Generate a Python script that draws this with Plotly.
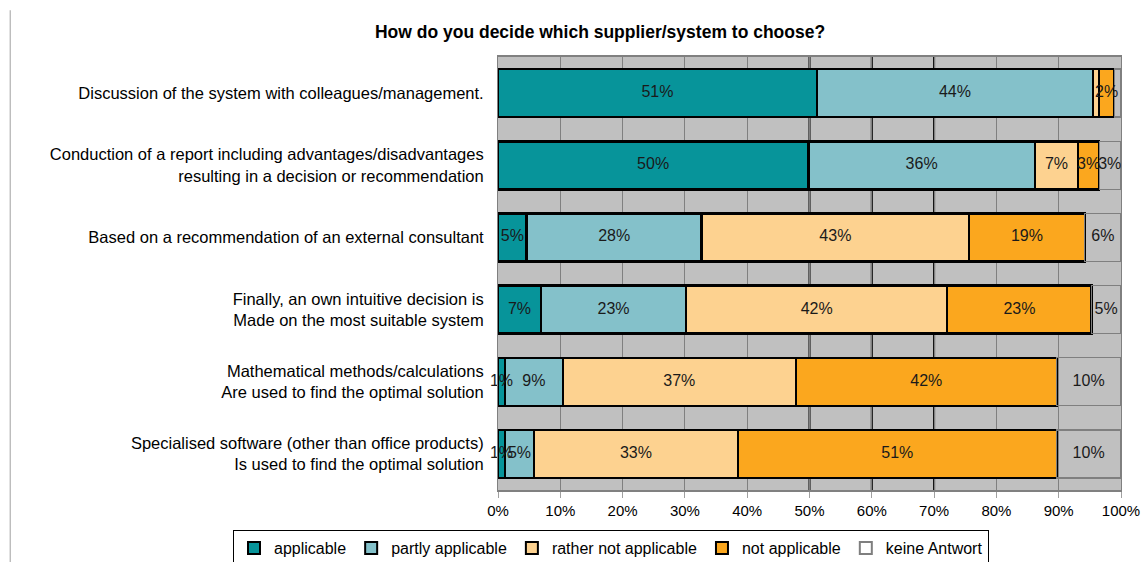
import numpy as np
import plotly.graph_objects as go

categories = [
    "Discussion of the system with colleagues/management.",
    "Conduction of a report including advantages/disadvantages<br>resulting in a decision or recommendation",
    "Based on a recommendation of an external consultant",
    "Finally, an own intuitive decision is<br>Made on the most suitable system",
    "Mathematical methods/calculations<br>Are used to find the optimal solution",
    "Specialised software (other than office products)<br>Is used to find the optimal solution",
]

series_names = ["applicable", "partly applicable", "rather not applicable", "not applicable", "keine Antwort"]

applicable = [51.2, 49.8, 4.6, 6.9, 1.1, 1.1]
partly_applicable = [44.3, 36.4, 28.1, 23.3, 9.3, 4.7]
rather_not_applicable = [1.0, 6.9, 42.9, 41.9, 37.4, 32.7]
not_applicable = [2.4, 3.4, 18.6, 23.2, 41.9, 51.2]
keine_antwort = [1.0, 3.4, 5.8, 4.6, 10.2, 10.2]

labels_applicable = ["51%", "50%", "5%", "7%", "1%", "1%"]
labels_partly = ["44%", "36%", "28%", "23%", "9%", "5%"]
labels_rather_not = ["", "7%", "43%", "42%", "37%", "33%"]
labels_not = ["2%", "3%", "19%", "23%", "42%", "51%"]
labels_keine = ["", "3%", "6%", "5%", "10%", "10%"]

x_ticks = [0, 10, 20, 30, 40, 50, 60, 70, 80, 90, 100]
x_tick_labels = ["0%", "10%", "20%", "30%", "40%", "50%", "60%", "70%", "80%", "90%", "100%"]
series_line_positions = [50, 60, 70]

values = [applicable, partly_applicable, rather_not_applicable, not_applicable, keine_antwort]
labels = [labels_applicable, labels_partly, labels_rather_not, labels_not, labels_keine]
fills = ["#07949A", "#84C1CA", "#FDD290", "#FBA71E", "rgba(0,0,0,0)"]
borders = ["#000000", "#000000", "#000000", "#000000", "#7F7F7F"]
border_w = [2.5, 2.5, 2.5, 2.5, 1.2]

FONT = "Liberation Sans, Arial, sans-serif"

fig = go.Figure()
for name, vals, fc, bc, bw in zip(series_names, values, fills, borders, border_w):
    fig.add_trace(go.Bar(
        y=categories, x=vals, name=name, orientation="h",
        marker=dict(color=fc, line=dict(color=bc, width=bw)),
        hoverinfo="x+name",
    ))

# data labels drawn on top of all bars, centred on each segment
arr = np.array(values, dtype=float)
ends = np.cumsum(arr, axis=0)
mids = ends - arr / 2
lx, ly, lt = [], [], []
for s in range(len(values)):
    for c in range(len(categories)):
        if labels[s][c]:
            lx.append(mids[s, c])
            ly.append(categories[c])
            lt.append(labels[s][c])
fig.add_trace(go.Scatter(
    x=lx, y=ly, text=lt, mode="text", textposition="middle center",
    textfont=dict(family=FONT, size=16, color="#1a1a1a"),
    showlegend=False, hoverinfo="skip", cliponaxis=False,
))

for xv in series_line_positions:
    fig.add_shape(type="line", xref="x", yref="paper", x0=xv, x1=xv, y0=0, y1=1,
                  line=dict(color="#000000", width=2), layer="below")

# chart area left border
fig.add_shape(type="line", xref="paper", yref="paper", x0=-0.783, x1=-0.783, y0=-0.17, y1=1.108,
              line=dict(color="#A0A0A0", width=1))

fig.update_layout(
    barmode="stack",
    bargap=0.335,
    width=1146, height=562,
    margin=dict(l=498, r=25, t=57, b=72, autoexpand=False),
    paper_bgcolor="#FFFFFF",
    plot_bgcolor="#C0C0C0",
    font=dict(family=FONT, size=16, color="#000000"),
    title=dict(text="<b>How do you decide which supplier/system to choose?</b>",
               x=0.5236, xref="container", xanchor="center",
               y=0.943, yref="container", yanchor="middle",
               font=dict(family=FONT, size=17.5, color="#000000")),
    legend=dict(orientation="h", x=(233 - 498) / 623, xanchor="left",
                y=(490 - 530) / 433, yanchor="top",
                bordercolor="#000000", borderwidth=1, bgcolor="#FFFFFF",
                font=dict(family=FONT, size=16, color="#000000"),
                itemsizing="constant", traceorder="normal", itemwidth=30),
    xaxis=dict(range=[0, 100], tickvals=x_ticks, ticktext=x_tick_labels,
               showgrid=True, gridcolor="#808080", gridwidth=1,
               ticks="outside", ticklen=6, tickcolor="#A0A0A0",
               showline=True, linecolor="#808080", linewidth=2, mirror=True,
               tickfont=dict(family=FONT, size=15, color="#000000"), zeroline=False,
               fixedrange=True),
    yaxis=dict(autorange="reversed", showline=True, linecolor="#808080", linewidth=1, mirror=True,
               tickfont=dict(family=FONT, size=16.5, color="#000000"), ticks="", ticklabelstandoff=10,
               fixedrange=True),
)

fig.write_html("out.html")
